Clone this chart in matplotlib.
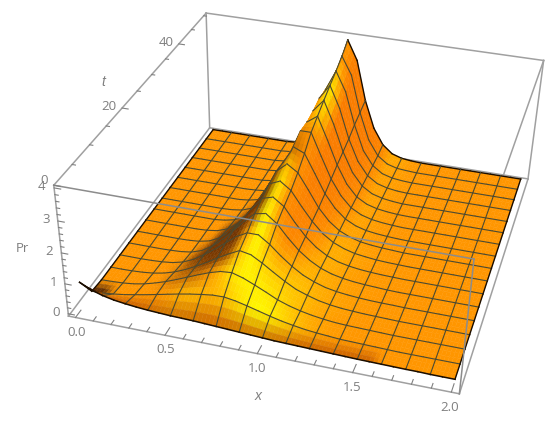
import numpy as np
import matplotlib
matplotlib.use('Agg')
import matplotlib.pyplot as plt
from mpl_toolkits.mplot3d.art3d import Poly3DCollection

plt.rcParams['font.family'] = ['Open Sans', 'DejaVu Sans']

# grid, x every 0.0625 and one row per mesh line in t
x_vals = [i * 0.0625 for i in range(33)]
t_vals = [2, 5, 8, 11, 14, 17, 20, 23, 26, 29, 32, 35, 38, 41, 44, 47, 50]

# values, one list per t row
pr_t02 = [.80,.62,.50,.42,.37,.33,.30,.28,.26,.25,.24,.22,.20,.18,.16,.14,.12,.10,.09,.08,.07,.06,.05,.04,.03,.025,.02,.015,.01,.01] + [0]*3
pr_t05 = [.05,.06,.10,.15,.22,.29,.37,.45,.53,.60,.66,.71,.72,.66,.57,.47,.37,.28,.21,.15,.11,.08,.05,.04,.03,.02,.01] + [0]*6
pr_t08 = [0] + [.01,.03,.07,.14,.24,.36,.50,.65,.80,.94,1.05,1.08,.97,.81,.64,.46,.33,.23,.155,.10,.06,.04,.03,.02,.01] + [0]*7
pr_t11 = [0]*2 + [.01,.03,.07,.14,.25,.40,.58,.78,1.00,1.20,1.38,1.31,1.10,.86,.63,.43,.30,.19,.12,.075,.05,.03,.02,.01] + [0]*7
pr_t14 = [0]*3 + [.01,.03,.07,.16,.32,.55,.80,1.08,1.36,1.55,1.55,1.30,.98,.70,.47,.31,.19,.12,.075,.045,.025,.015,.01] + [0]*7
pr_t17 = [0]*4 + [.01,.03,.08,.20,.42,.72,1.08,1.45,1.78,1.85,1.58,1.17,.81,.54,.34,.21,.13,.08,.05,.03,.01] + [0]*8
pr_t20 = [0]*5 + [.01,.04,.12,.30,.60,1.00,1.47,1.90,2.00,1.75,1.28,.87,.56,.34,.20,.12,.07,.04,.02,.01] + [0]*8
pr_t23 = [0]*6 + [.02,.07,.20,.46,.88,1.42,2.00,2.15,1.90,1.42,.98,.62,.38,.23,.13,.08,.04,.02,.01] + [0]*8
pr_t26 = [0]*7 + [.04,.12,.30,.68,1.30,2.05,2.35,2.12,1.60,1.05,.65,.38,.22,.12,.07,.04,.02] + [0]*9
pr_t29 = [0]*7 + [.02,.07,.20,.48,1.08,1.98,2.55,2.40,1.78,1.15,.70,.39,.21,.11,.06,.03,.01] + [0]*9
pr_t32 = [0]*8 + [.04,.12,.34,.88,1.90,2.75,2.75,2.00,1.28,.75,.39,.20,.10,.05,.02] + [0]*10
pr_t35 = [0]*8 + [.02,.06,.20,.62,1.60,2.70,2.95,2.20,1.40,.78,.39,.19,.09,.04,.01] + [0]*10
pr_t38 = [0]*9 + [.05,.16,.53,1.50,2.75,3.15,2.40,1.50,.82,.40,.18,.08,.03] + [0]*11
pr_t41 = [0]*9 + [.04,.14,.49,1.40,2.85,3.33,2.60,1.60,.85,.40,.17,.07,.02] + [0]*11
pr_t44 = [0]*9 + [.04,.13,.42,1.26,2.80,3.50,2.85,1.75,.88,.40,.16,.06,.02] + [0]*11
pr_t47 = [0]*9 + [.03,.10,.33,1.04,2.55,3.70,3.10,1.85,.92,.40,.15,.05,.02] + [0]*11
pr_t50 = [0]*9 + [.03,.10,.35,1.10,2.70,3.95,3.30,1.95,1.00,.45,.17,.06,.02] + [0]*11

x_major = [0.0, 0.5, 1.0, 1.5, 2.0]
x_major_labels = ['0.0', '0.5', '1.0', '1.5', '2.0']
z_major = [0, 1, 2, 3, 4]
t_major = [0, 20, 40]

X = np.array(x_vals)
T = np.array(t_vals, dtype=float)
Z = np.array([pr_t02, pr_t05, pr_t08, pr_t11, pr_t14, pr_t17, pr_t20, pr_t23, pr_t26,
              pr_t29, pr_t32, pr_t35, pr_t38, pr_t41, pr_t44, pr_t47, pr_t50], dtype=float)

xlim = (-0.04, 2.04)
tlim = (0, 51)
zlim = (-0.08, 4.08)
box_aspect = (0.974, 1, 0.408)

fig = plt.figure(figsize=(5.5, 4.25), dpi=100)
ax = fig.add_axes([0, 0, 1, 1], projection='3d')
ax.apply_aspect = lambda position=None: None  # keep the axes as big as the figure
ax.set_axis_off()
ax.computed_zorder = False
ax.view_init(33.36, -74.37, -1.30)
ax.set_proj_type('persp', focal_length=0.459)
ax.set_box_aspect(box_aspect)
ax.set_xlim(*xlim)
ax.set_ylim(*tlim)
ax.set_zlim(*zlim)
# the box and its ticks are drawn by hand below, the built-in axes stay empty
for a in (ax.xaxis, ax.yaxis, ax.zaxis):
    a.set_ticks([])
    a.set_visible(False)
    for txt in (a.label, a.offsetText):
        txt.set_visible(False)
        txt.set_transform(fig.transFigure)
        txt.set_position((0.5, 0.5))
# camera fit: projected origin sits at pixel (318.3, 243.3 from the bottom)
ax.viewLim.intervalx = (-318.3 / 2955.7, (550 - 318.3) / 2955.7)
ax.viewLim.intervaly = (-243.3 / 2785.3, (425 - 243.3) / 2785.3)

# vertex colours from the slope of the surface
sx = box_aspect[0] / (xlim[1] - xlim[0])
st = box_aspect[1] / (tlim[1] - tlim[0])
sz = box_aspect[2] / (zlim[1] - zlim[0])
dzdx = np.gradient(Z, X, axis=1) * sz / sx
dzdt = np.gradient(Z, T, axis=0) * sz / st
norm = np.sqrt(dzdx ** 2 + dzdt ** 2 + 1)
nx, ny, nz = -dzdx / norm, -dzdt / norm, 1 / norm

d2 = 0.3 * (nx - 0.3) ** 2 + 0.8 * (ny + 0.35) ** 2 + (nz - 0.85) ** 2
yellow = np.clip((np.exp(-d2 / 0.12) - 0.29) / 0.71, 0, 1)[..., None]
colours = np.array([255, 150, 0.0]) + yellow * np.array([0, 100, 0.0])
colours = colours + np.clip((nx - 0.6) / 0.3, 0, 1)[..., None] * np.array([-5, -25, 0.0])
# the dark band on the left of the ridge fades out towards the back
fade = np.clip((34 - T) / 10, 0, 1)[:, None]
dark = (np.clip((-nx - 0.35) / 0.25, 0, 1) * 0.85 * fade)[..., None]
colours = colours * (1 - dark) + np.array([90, 35, 0.0]) * dark
# brown scallops along the front edge, and the small tip at x = 0
colours[0, 2:26] = colours[0, 2:26] * 0.2 + np.array([190, 85, 0.0]) * 0.8
colours[0:2, 0:2] = np.array([70, 30, 5.0])
colours = colours / 255


def shaded_cell(i, j, n=3):
    # one mesh cell cut in n x n pieces so the colour runs smoothly over it
    polys, cols = [], []
    for a in range(n):
        for b in range(n):
            quad = []
            for ua, ub in [(a, b), (a, b + 1), (a + 1, b + 1), (a + 1, b)]:
                u, v = ua / n, ub / n
                z = (Z[i, j] * (1 - u) * (1 - v) + Z[i, j + 1] * (1 - u) * v
                     + Z[i + 1, j] * u * (1 - v) + Z[i + 1, j + 1] * u * v)
                quad.append((X[j] + v * (X[j + 1] - X[j]), T[i] + u * (T[i + 1] - T[i]), z))
            u, v = (a + 0.5) / n, (b + 0.5) / n
            cols.append(colours[i, j] * (1 - u) * (1 - v) + colours[i, j + 1] * (1 - u) * v
                        + colours[i + 1, j] * u * (1 - v) + colours[i + 1, j + 1] * u * v)
            polys.append(quad)
    return polys, cols


mesh_col = '#4b4a32'
edge_col = '#1a0d00'
box_col = '#a0a0a0'

# back edges of the box go behind the surface
ax.plot(xlim, [tlim[1]] * 2, [zlim[0]] * 2, color=box_col, lw=1.1, zorder=1)
ax.plot(xlim, [tlim[1]] * 2, [zlim[1]] * 2, color=box_col, lw=1.1, zorder=1)
ax.plot([xlim[0]] * 2, tlim, [zlim[0]] * 2, color=box_col, lw=1.1, zorder=1)
ax.plot([xlim[1]] * 2, tlim, [zlim[0]] * 2, color=box_col, lw=1.1, zorder=1)
ax.plot([xlim[0]] * 2, [tlim[1]] * 2, zlim, color=box_col, lw=1.1, zorder=1)
ax.plot([xlim[1]] * 2, [tlim[1]] * 2, zlim, color=box_col, lw=1.1, zorder=1)
ax.plot(xlim, [tlim[0]] * 2, [zlim[0]] * 2, color=box_col, lw=1.1, zorder=1)
ax.plot([xlim[0]] * 2, tlim, [zlim[1]] * 2, color=box_col, lw=1.1, zorder=1)
ax.plot([xlim[1]] * 2, tlim, [zlim[1]] * 2, color=box_col, lw=1.1, zorder=1)
ax.plot([xlim[0]] * 2, [tlim[0]] * 2, zlim, color=box_col, lw=1.1, zorder=1)

# painter's order: far rows first, left to right, so the ridge hides what is behind it
order = 10
for i in range(len(T) - 2, -1, -1):
    for j in range(len(X) - 1):
        polys, cols = shaded_cell(i, j)
        ax.add_collection3d(Poly3DCollection(polys, facecolors=cols, edgecolors=cols, linewidth=0.3, zorder=order),
                            autolim=False)
        order += 1
        back = i == len(T) - 2
        ax.plot(X[j:j + 2], [T[i + 1]] * 2, Z[i + 1, j:j + 2], color=edge_col if back else mesh_col,
                lw=1.0 if back else 0.8, zorder=order)
        if j % 2 == 0:
            left = j == 0
            ax.plot([X[j]] * 2, T[i:i + 2], Z[i:i + 2, j], color=edge_col if left else mesh_col,
                    lw=1.0 if left else 0.8, zorder=order)
        if j == len(X) - 2:
            ax.plot([X[j + 1]] * 2, T[i:i + 2], Z[i:i + 2, j + 1], color=edge_col, lw=1.0, zorder=order)
        if i == 0:
            ax.plot(X[j:j + 2], [T[0]] * 2, Z[0, j:j + 2], color=edge_col, lw=1.1, zorder=order)
        order += 1

# front edges of the box go over it
top = order + 10
grey = '#8c8c8c'
ax.plot(xlim, [tlim[0]] * 2, [zlim[1]] * 2, color=grey, lw=1.1, zorder=top)
ax.plot([xlim[1]] * 2, [tlim[0]] * 2, zlim, color=grey, lw=1.1, zorder=top)

# ticks along the three labelled edges
tick_col = '#808080'
for v in np.arange(0, 2.01, 0.1):
    major = abs(v * 2 - round(v * 2)) < 1e-6
    ax.plot([v, v], [tlim[0], tlim[0] + (1.6 if major else 0.9)], [zlim[0]] * 2, color=tick_col, lw=0.8, zorder=top)
for v in np.arange(0, 4.01, 0.2):
    major = abs(v - round(v)) < 1e-6
    ax.plot([xlim[0], xlim[0] + (0.035 if major else 0.018)], [tlim[0]] * 2, [v, v], color=tick_col, lw=0.8, zorder=top)
for v in range(0, 51, 5):
    major = v % 20 == 0
    ax.plot([xlim[0], xlim[0] + (0.035 if major else 0.018)], [v, v], [zlim[1]] * 2, color=tick_col, lw=0.8, zorder=top)

label_col = '#7f7f7f'
for v, s in zip(x_major, x_major_labels):
    ax.text(v, tlim[0], zlim[0] - 0.5, s, color=label_col, fontsize=9.5, ha='center', va='center', zorder=top)
for v in z_major:
    ax.text(xlim[0] - 0.045, tlim[0], v, str(v), color=label_col, fontsize=9.5, ha='right', va='center', zorder=top)
for v in t_major:
    ax.text(xlim[0] - 0.03, v, zlim[1] + (0.12 if v == 0 else 0.03), str(v), color=label_col, fontsize=9.5,
            ha='right', va='center', zorder=top)

fig.text(22 / 550, 1 - 248 / 425, 'Pr', color=label_col, fontsize=9.5, ha='center', va='center')
fig.text(258 / 550, 1 - 396 / 425, 'x', color=label_col, fontsize=10, family='Liberation Sans', style='italic', ha='center', va='center')
fig.text(103 / 550, 1 - 82 / 425, 't', color=label_col, fontsize=10, family='Liberation Sans', style='italic', ha='center', va='center')

fig.savefig('out.png', dpi=100)
